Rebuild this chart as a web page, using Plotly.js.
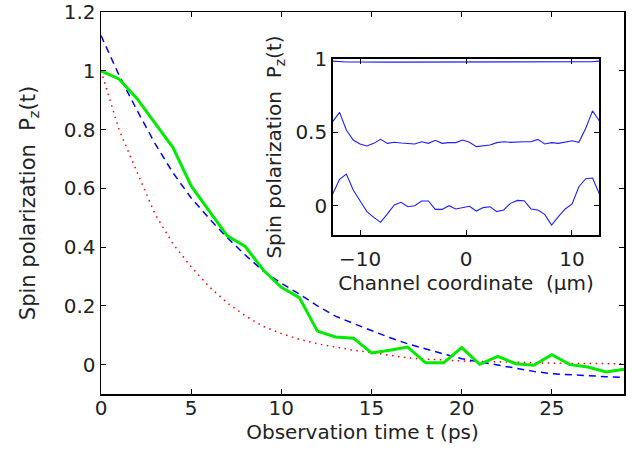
<!DOCTYPE html>
<html>
<head>
<meta charset="utf-8">
<script src="https://cdn.plot.ly/plotly-3.0.1.min.js"></script>
<style>html,body{margin:0;padding:0;background:#fff;}#chart{width:637px;height:461px;}</style>
</head>
<body>
<div id="chart"></div>
<script>
// ---- main panel data: observation time (ps) ----
var timePs = [0,1,2,3,4,5,6,7,8,9,10,11,12,13,14,15,16,17,18,19,20,21,22,23,24,25,26,27,28,29];
// simulated spin polarization (green, solid)
var simPol = [1.0,0.972,0.905,0.823,0.738,0.608,0.522,0.438,0.402,0.322,0.263,0.228,0.114,0.094,0.090,0.040,0.049,0.060,0.006,0.006,0.058,0.001,0.028,0.003,-0.002,0.034,0.000,-0.008,-0.025,-0.016];
// fitted decay (blue, dashed)
var fitPol = [1.12,0.985,0.865,0.752,0.652,0.567,0.497,0.432,0.373,0.318,0.277,0.240,0.200,0.165,0.140,0.116,0.092,0.071,0.053,0.036,0.020,0.009,-0.003,-0.014,-0.023,-0.031,-0.035,-0.038,-0.041,-0.044];
// reference decay (red, dotted)
var refPol = [1.0,0.80,0.655,0.512,0.410,0.333,0.265,0.210,0.166,0.130,0.106,0.086,0.071,0.059,0.049,0.041,0.031,0.023,0.019,0.015,0.0125,0.011,0.009,0.007,0.006,0.005,0.004,0.004,0.003,0.003];
var mainXTicks = [0,5,10,15,20,25];
var mainYTicks = [0,0.2,0.4,0.6,0.8,1,1.2];
var mainYLabels = ['0','0.2','0.4','0.6','0.8','1','1.2'];

// ---- inset data: channel coordinate (um) ----
var chanX = [-12.60,-11.95,-11.31,-10.66,-10.02,-9.37,-8.72,-8.08,-7.43,-6.78,-6.14,-5.49,-4.85,-4.20,-3.55,-2.91,-2.26,-1.62,-0.97,-0.32,0.32,0.97,1.62,2.26,2.91,3.55,4.20,4.85,5.49,6.14,6.78,7.43,8.08,8.72,9.37,10.02,10.66,11.31,11.95,12.60];
var profTop = [0.983,0.979,0.977,0.977,0.976,0.976,0.976,0.976,0.976,0.976,0.976,0.976,0.976,0.976,0.976,0.976,0.976,0.976,0.976,0.975,0.975,0.976,0.976,0.976,0.976,0.976,0.976,0.976,0.976,0.976,0.976,0.976,0.976,0.976,0.976,0.976,0.977,0.977,0.979,0.983];
var profMid = [0.572,0.635,0.516,0.448,0.421,0.407,0.425,0.452,0.425,0.432,0.427,0.425,0.421,0.436,0.425,0.446,0.425,0.430,0.430,0.448,0.432,0.403,0.409,0.414,0.430,0.436,0.432,0.436,0.436,0.436,0.452,0.421,0.430,0.425,0.434,0.443,0.432,0.527,0.645,0.577];
var profBot = [0.081,0.181,0.217,0.109,0.036,-0.038,-0.077,-0.111,-0.054,0.007,0.025,-0.005,0.002,0.034,0.034,-0.023,-0.023,0.002,-0.020,-0.011,-0.002,-0.034,-0.011,-0.005,-0.038,-0.027,0.018,0.038,0.036,-0.020,-0.027,-0.057,-0.129,-0.072,-0.020,0.014,0.131,0.185,0.190,0.081];
var insetXTicks = [-10,0,10];
var insetXLabels = ['\u221210','0','10'];
var insetYTicks = [0,0.5,1];
var insetYLabels = ['0','0.5','1'];

var FONT = 'DejaVu Sans, Liberation Sans, Arial, sans-serif';
var insetLine = {color:'rgb(30,30,255)', width:1.1};

var traces = [
  {x:timePs, y:refPol, type:'scatter', mode:'lines', line:{color:'rgb(255,0,0)', width:1.5, dash:'1.5px,4.5px'}, xaxis:'x', yaxis:'y'},
  {x:timePs, y:fitPol, type:'scatter', mode:'lines', line:{color:'rgb(0,0,255)', width:1.5, dash:'7px,5px'}, xaxis:'x', yaxis:'y'},
  {x:timePs, y:simPol, type:'scatter', mode:'lines', line:{color:'rgb(0,235,0)', width:3}, xaxis:'x', yaxis:'y'},
  {x:chanX, y:profTop, type:'scatter', mode:'lines', line:insetLine, xaxis:'x2', yaxis:'y2'},
  {x:chanX, y:profMid, type:'scatter', mode:'lines', line:insetLine, xaxis:'x2', yaxis:'y2'},
  {x:chanX, y:profBot, type:'scatter', mode:'lines', line:insetLine, xaxis:'x2', yaxis:'y2'}
];

var axBase = {
  showline:true, linecolor:'black', linewidth:1.5, mirror:'ticks',
  ticks:'inside', ticklen:5, tickwidth:1, tickcolor:'black',
  showgrid:false, zeroline:false, automargin:false,
  tickfont:{family:FONT, size:20, color:'#222'}
};
function ax(extra){ var o = JSON.parse(JSON.stringify(axBase)); for (var k in extra) o[k] = extra[k]; return o; }

var layout = {
  width:637, height:461,
  margin:{l:101, r:13, t:12, b:67, pad:0},
  paper_bgcolor:'white', plot_bgcolor:'white',
  showlegend:false,
  font:{family:FONT, size:20, color:'#222'},
  xaxis: ax({domain:[0,1], anchor:'y', range:[0,29], tickmode:'array', tickvals:mainXTicks, ticktext:mainXTicks.map(String),
    ticklabelstandoff:-5,
    title:{text:'Observation time t (ps)', font:{family:FONT, size:20, color:'#222'}, standoff:6}}),
  yaxis: ax({domain:[0,1], anchor:'x', range:[-0.1,1.2], tickmode:'array', tickvals:mainYTicks, ticktext:mainYLabels,
    title:{text:'Spin polarization  P<sub>z</sub>(t)', font:{family:FONT, size:21, color:'#222'}, standoff:22}}),
  xaxis2: ax({domain:[0.443,0.953], anchor:'y2', range:[-12.6,12.6], tickmode:'array', tickvals:insetXTicks, ticktext:insetXLabels,
    ticklabelstandoff:5,
    title:{text:'Channel coordinate  (\u03bcm)', font:{family:FONT, size:20, color:'#222'}, standoff:0}}),
  yaxis2: ax({domain:[0.415,0.878], anchor:'x2', range:[-0.2,1], tickmode:'array', tickvals:insetYTicks, ticktext:insetYLabels,
    title:{text:'Spin polarization  P<sub>z</sub>(t)', font:{family:FONT, size:20, color:'#222'}, standoff:8}})
};

Plotly.newPlot('chart', traces, layout, {displayModeBar:false, staticPlot:true});
</script>
</body>
</html>
